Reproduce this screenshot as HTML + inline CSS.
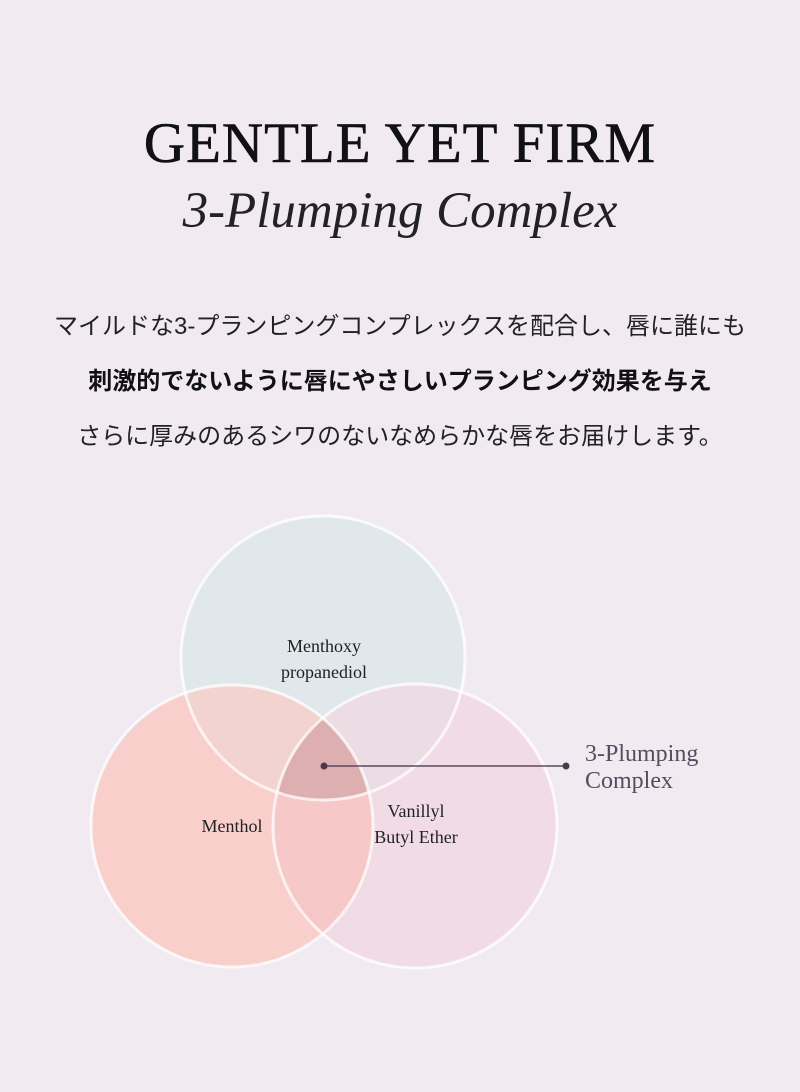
<!DOCTYPE html>
<html><head><meta charset="utf-8"><style>
body{margin:0;width:800px;height:1092px;background:#f1ebf1;position:relative;overflow:hidden}
.t{position:absolute;left:0;width:800px;text-align:center;color:#111}
.h1{top:111px;font-family:"Liberation Serif",serif;font-size:57px;letter-spacing:1px;line-height:66px;-webkit-text-stroke:0.6px #111}
.h2{top:178px;font-family:"Liberation Serif",serif;font-style:italic;font-size:51px;line-height:66px;color:#222}
.jp{font-family:"Liberation Sans","Noto Sans CJK JP",sans-serif;font-size:24px;line-height:30px;color:#222}
</style></head><body>
<div class="t h1">GENTLE YET FIRM</div>
<div class="t h2">3-Plumping Complex</div>
<div class="t jp" style="top:312px">マイルドな3-プランピングコンプレックスを配合し、唇に誰にも</div>
<div class="t jp" style="top:367px;font-weight:bold;color:#111">刺激的でないように唇にやさしいプランピング効果を与え</div>
<div class="t jp" style="top:422px">さらに厚みのあるシワのないなめらかな唇をお届けします。</div>
<svg width="800" height="1092" style="position:absolute;left:0;top:0">
<defs>
<clipPath id="T"><circle cx="323" cy="658" r="142"/></clipPath>
<clipPath id="L"><circle cx="232" cy="826" r="141"/></clipPath>
<clipPath id="R"><circle cx="415" cy="826" r="142"/></clipPath>
</defs>
<circle cx="323" cy="658" r="142" fill="#e0e8ec"/>
<circle cx="415" cy="826" r="142" fill="#f1dce6"/>
<circle cx="232" cy="826" r="141" fill="#f9cfcb"/>
<g clip-path="url(#T)"><circle cx="415" cy="826" r="142" fill="#ecdce4"/><circle cx="232" cy="826" r="141" fill="#f3d3d0"/></g>
<g clip-path="url(#L)"><circle cx="415" cy="826" r="142" fill="#f6c9c8"/></g>
<g clip-path="url(#T)"><g clip-path="url(#L)"><circle cx="415" cy="826" r="142" fill="#deafb0"/></g></g>
<g fill="none" stroke="#fff" stroke-opacity="0.75" stroke-width="3">
<circle cx="323" cy="658" r="142"/><circle cx="232" cy="826" r="141"/><circle cx="415" cy="826" r="142"/>
</g>
<line x1="324" y1="766" x2="566" y2="766" stroke="#5a4a5e" stroke-width="1.5"/>
<circle cx="324" cy="766" r="3.5" fill="#4a3a4e"/><circle cx="566" cy="766" r="3.5" fill="#4a3a4e"/>
<g font-family="Liberation Serif,serif" font-size="18" fill="#222" text-anchor="middle">
<text x="324" y="652">Menthoxy</text><text x="324" y="678">propanediol</text>
<text x="232" y="832">Menthol</text>
<text x="416" y="817">Vanillyl</text><text x="416" y="843">Butyl Ether</text>
</g>
<g font-family="Liberation Serif,serif" font-size="24" fill="#5a4a5e">
<text x="585" y="761">3-Plumping</text><text x="585" y="788">Complex</text>
</g>
</svg>
</body></html>
